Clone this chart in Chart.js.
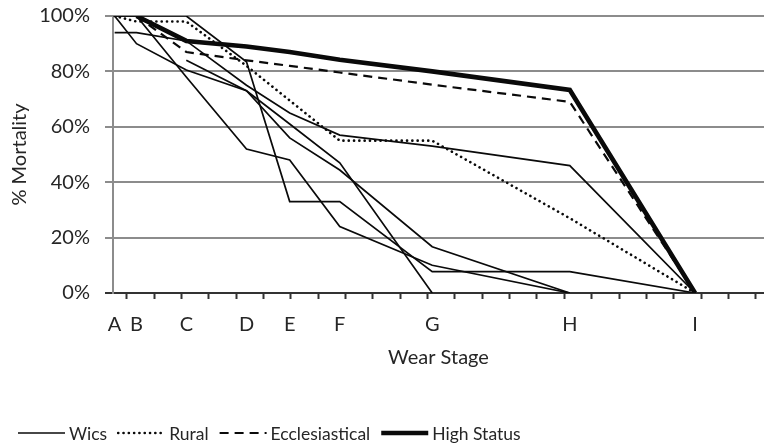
<!DOCTYPE html>
<html>
<head>
<meta charset="utf-8">
<script src="https://cdn.jsdelivr.net/npm/chart.js@4.4.1/dist/chart.umd.min.js"></script>
<style>
  html, body { margin: 0; padding: 0; background: #ffffff; }
  #wrap { width: 764px; height: 448px; }
</style>
</head>
<body>
<div id="wrap"><canvas id="chart" width="764" height="448"></canvas></div>
<script>
// Wear stages and where each one sits along the stage axis
const stages = ['A', 'B', 'C', 'D', 'E', 'F', 'G', 'H', 'I'];
const stagePositions = [0.06, 0.86, 2.68, 4.88, 6.46, 8.29, 11.67, 16.7, 21.28];

// % mortality by wear stage, one array per site
const wicsSite1 = [94, 94, 91, 75, 65, 57, 53, 46, 0];
const wicsSite2 = [100, 90, 80.5, 73, 56, 44.4, 16.7, 0, null];
const wicsSite3 = [100, 100, 100, 83.5, 33, 33, 7.7, 7.7, 0];
const wicsSite4 = [100, 100, 78, 52, 48, 24, 10, 0, null];
const wicsSite5 = [null, null, 84, 73, 61, 47, 0, null, null];
const rural = [100, 98, 98, 82, 69.5, 55, 55, 27, 0];
const ecclesiastical = [null, 100, 87, 84, 82, 79.6, 75.2, 69, 0];
const highStatus = [null, 100, 91, 89, 87, 84.2, 80, 73.3, 0];

// y-axis tick values
const yTickValues = [0, 20, 40, 60, 80, 100];

const FONT = 'Lato, "Open Sans", "DejaVu Sans", sans-serif';
const TEXT = '#262626';
const INK = '#0a0a0a';
const AXIS_MAX = 23.8;

function points(values) {
  return stagePositions.map((x, i) => ({ x: x, y: values[i] }));
}

const styles = {
  Wics: { borderWidth: 1.7, borderDash: [], borderCapStyle: 'butt' },
  Rural: { borderWidth: 2.6, borderDash: [0.1, 5.2], borderCapStyle: 'round' },
  Ecclesiastical: { borderWidth: 2.2, borderDash: [9, 6], borderCapStyle: 'butt' },
  'High Status': { borderWidth: 4.6, borderDash: [], borderCapStyle: 'butt' }
};

function series(group, values) {
  return Object.assign({
    group: group,
    data: points(values),
    borderColor: INK,
    backgroundColor: INK,
    pointRadius: 0,
    pointHoverRadius: 0,
    tension: 0,
    fill: false,
    spanGaps: false,
    borderJoinStyle: 'miter'
  }, styles[group]);
}

const datasets = [
  series('Wics', wicsSite1),
  series('Wics', wicsSite2),
  series('Wics', wicsSite3),
  series('Wics', wicsSite4),
  series('Wics', wicsSite5),
  series('Rural', rural),
  series('Ecclesiastical', ecclesiastical),
  series('High Status', highStatus)
];

function stageAt(value) {
  const i = stagePositions.findIndex(p => Math.abs(p - value) < 1e-6);
  return i >= 0 ? stages[i] : null;
}

// One legend entry per site type, drawn under the plot
const groupLegend = {
  id: 'groupLegend',
  afterDraw(chart, args, opts) {
    const ctx = chart.ctx;
    const seen = new Set();
    const items = [];
    chart.data.datasets.forEach(ds => {
      if (!seen.has(ds.group)) { seen.add(ds.group); items.push(ds); }
    });
    ctx.save();
    ctx.font = opts.font;
    ctx.textBaseline = 'middle';
    ctx.textAlign = 'left';
    let x = opts.x;
    const y = opts.y;
    items.forEach(ds => {
      ctx.beginPath();
      ctx.setLineDash(ds.borderDash || []);
      ctx.lineCap = ds.borderCapStyle || 'butt';
      ctx.lineWidth = ds.borderWidth;
      ctx.strokeStyle = ds.borderColor;
      ctx.moveTo(x, y);
      ctx.lineTo(x + opts.sampleWidth, y);
      ctx.stroke();
      x += opts.sampleWidth + opts.textGap;
      ctx.setLineDash([]);
      ctx.fillStyle = opts.color;
      ctx.fillText(ds.group, x, y + 1);
      x += ctx.measureText(ds.group).width + opts.itemGap;
    });
    ctx.restore();
  }
};

new Chart(document.getElementById('chart'), {
  type: 'line',
  data: { datasets: datasets },
  plugins: [groupLegend],
  options: {
    responsive: false,
    animation: false,
    devicePixelRatio: 1,
    events: [],
    layout: { padding: { top: 16, right: 0, bottom: 70, left: 0 } },
    plugins: {
      legend: { display: false },
      tooltip: { enabled: false },
      groupLegend: {
        x: 18, y: 433, sampleWidth: 47, textGap: 4, itemGap: 11,
        font: '17.5px ' + FONT, color: TEXT
      }
    },
    scales: {
      x: {
        type: 'linear',
        min: 0,
        max: AXIS_MAX,
        afterBuildTicks(scale) {
          const ticks = [];
          for (let v = 0.5; v < AXIS_MAX; v += 1) ticks.push({ value: v });
          stagePositions.forEach(p => ticks.push({ value: p }));
          ticks.sort((a, b) => a.value - b.value);
          scale.ticks = ticks;
        },
        afterFit(scale) {
          scale.height = 85;
          scale.paddingLeft = 0;
          scale.paddingRight = 0;
        },
        ticks: {
          autoSkip: false,
          maxRotation: 0,
          minRotation: 0,
          padding: 14,
          color: TEXT,
          font: { family: FONT, size: 20 },
          callback: (value) => stageAt(value) || ''
        },
        grid: {
          drawOnChartArea: false,
          drawTicks: true,
          tickLength: 6,
          tickWidth: 2,
          tickColor: (c) => (c.tick && stageAt(c.tick.value)) ? 'rgba(0,0,0,0)' : '#333333'
        },
        border: { display: true, color: '#333333', width: 2 },
        title: {
          display: true,
          text: 'Wear Stage',
          color: TEXT,
          font: { family: FONT, size: 20 },
          padding: { top: 0, bottom: 8 }
        }
      },
      y: {
        min: 0,
        max: 100,
        afterBuildTicks(scale) {
          scale.ticks = yTickValues.map(v => ({ value: v }));
        },
        afterFit(scale) {
          scale.width = 113;
          scale.paddingTop = 0;
          scale.paddingBottom = 0;
        },
        ticks: {
          padding: 15,
          color: TEXT,
          font: { family: FONT, size: 20 },
          callback: (value) => value + '%'
        },
        grid: {
          color: (c) => (c.tick && c.tick.value === 0) ? '#333333' : '#8c8c8c',
          lineWidth: 2,
          tickLength: 8
        },
        border: { display: true, color: '#8c8c8c', width: 2 },
        title: {
          display: true,
          text: '% Mortality',
          color: TEXT,
          font: { family: FONT, size: 20 },
          padding: { top: 8, bottom: 0 }
        }
      }
    }
  }
});
</script>
</body>
</html>
